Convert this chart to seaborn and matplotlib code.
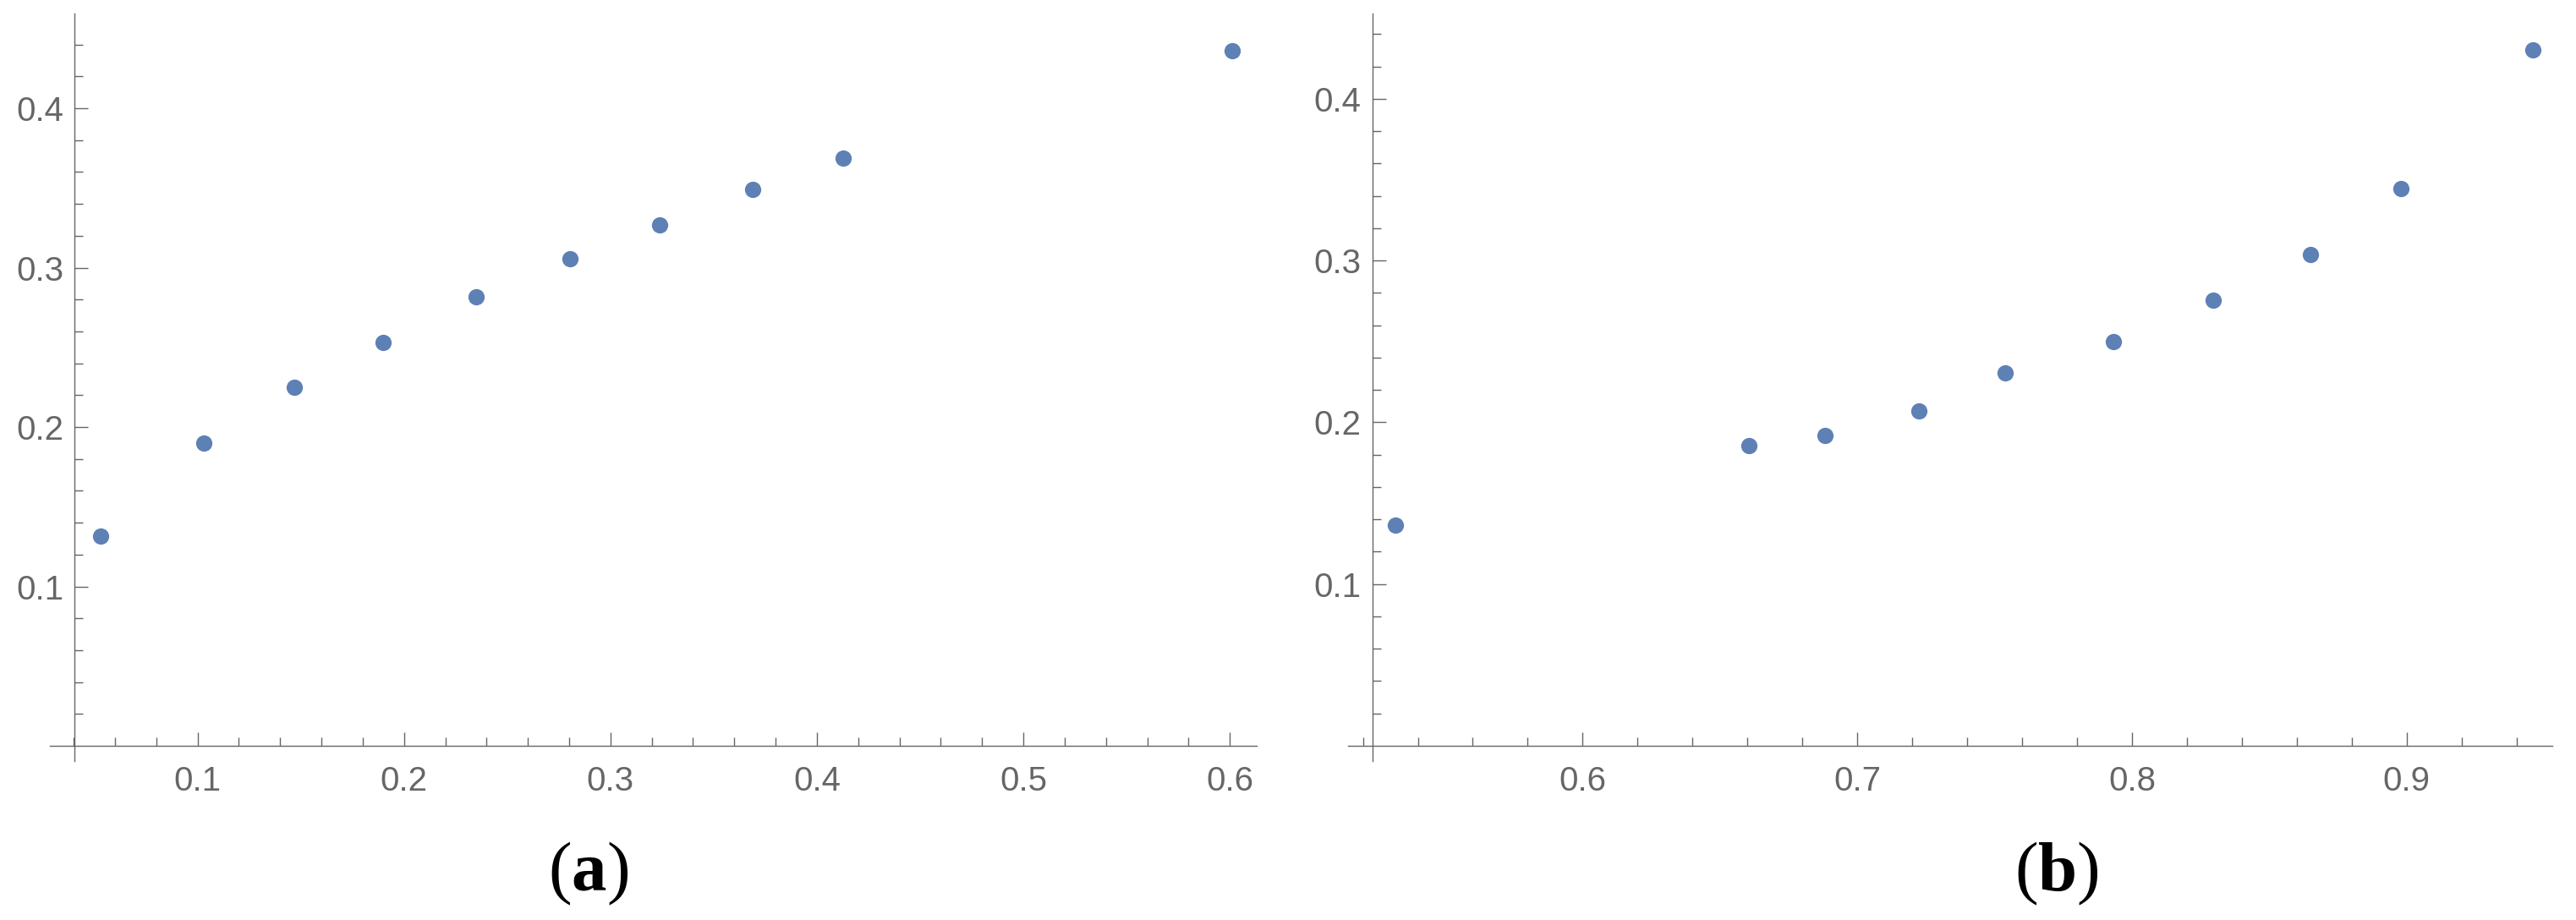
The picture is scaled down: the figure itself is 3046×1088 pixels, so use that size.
import matplotlib
matplotlib.use("Agg")
import matplotlib.pyplot as plt
import seaborn as sns
from matplotlib.ticker import FixedLocator
import numpy as np

# valores
left_x = [0.0529, 0.1032, 0.1468, 0.1900, 0.2351, 0.2803, 0.3239, 0.3690, 0.4126, 0.6012]
left_y = [0.1314, 0.1900, 0.2247, 0.2531, 0.2815, 0.3055, 0.3269, 0.3490, 0.3686, 0.4362]
right_x = [0.5319, 0.6606, 0.6882, 0.7224, 0.7539, 0.7932, 0.8295, 0.8649, 0.8979, 0.9459]
right_y = [0.1364, 0.1855, 0.1920, 0.2069, 0.2305, 0.2498, 0.2756, 0.3036, 0.3444, 0.4302]

left_xticks = [0.1, 0.2, 0.3, 0.4, 0.5, 0.6]
right_xticks = [0.6, 0.7, 0.8, 0.9]
yticks = [0.1, 0.2, 0.3, 0.4]
tick_labels_l = ["0.1", "0.2", "0.3", "0.4", "0.5", "0.6"]
tick_labels_r = ["0.6", "0.7", "0.8", "0.9"]
ytick_labels = ["0.1", "0.2", "0.3", "0.4"]
captions = ["a", "b"]

sns.set_style("white")
plt.rcParams['font.family'] = ['Liberation Sans', 'DejaVu Sans']
plt.rcParams['mathtext.fontset'] = 'custom'
plt.rcParams['mathtext.rm'] = 'Liberation Serif'
plt.rcParams['mathtext.bf'] = 'Liberation Serif:bold'

# tamaño exacto en pixeles: 3046x1088
W, H = 3046, 1088
DPI = 64
fig = plt.figure(figsize=(W / DPI, H / DPI), dpi=DPI)


def pt(px):
    # pixeles -> puntos
    return px * 72 / DPI


AX_COL = "#666666"
PT_COL = "#5E81B5"


def make_axes(px_left, px_right, px_top, px_bottom):
    return fig.add_axes([px_left / W, 1 - px_bottom / H,
                         (px_right - px_left) / W, (px_bottom - px_top) / H])


def style(ax, xlim, ylim, yaxis_x, xmaj, xlabels, xmin):
    ax.set_xlim(*xlim)
    ax.set_ylim(*ylim)
    for s in ["top", "right"]:
        ax.spines[s].set_visible(False)
    ax.spines["left"].set_position(("data", yaxis_x))
    ax.spines["bottom"].set_position(("data", 0))
    for s in ["left", "bottom"]:
        ax.spines[s].set_color(AX_COL)
        ax.spines[s].set_linewidth(pt(1.4))
    ax.xaxis.set_major_locator(FixedLocator(xmaj))
    ax.set_xticklabels(xlabels)
    ax.xaxis.set_minor_locator(FixedLocator(xmin))
    ax.yaxis.set_major_locator(FixedLocator(yticks))
    ax.set_yticklabels(ytick_labels)
    ymin = [v for v in np.round(np.arange(0.02, 0.45, 0.02), 2) if v not in yticks]
    ax.yaxis.set_minor_locator(FixedLocator(ymin))
    ax.tick_params(which="both", direction="in", color=AX_COL, width=pt(1.4),
                   labelcolor=AX_COL, labelsize=pt(40.3),
                   bottom=True, left=True, top=False, right=False)
    ax.tick_params(which="major", length=pt(15.7))
    ax.tick_params(which="minor", length=pt(10))
    ax.tick_params(axis="x", which="major", pad=pt(23))
    ax.tick_params(axis="y", which="major", pad=pt(13.2))
    ax.set_xlabel("")
    ax.set_ylabel("")
    ax.grid(False)


MS = pt(19.3) ** 2

# panel (a)
ax1 = make_axes(59, 1486, 16, 900)
sns.scatterplot(x=left_x, y=left_y, ax=ax1, color=PT_COL, s=MS, linewidth=0, zorder=3)
lmin = [v for v in np.round(np.arange(0.04, 0.61, 0.02), 2) if v not in left_xticks]
style(ax1, (0.0285, 0.613), (-0.0095, 0.4594), 0.0405, left_xticks, tick_labels_l, lmin)

# panel (b)
ax2 = make_axes(1594, 3018, 16, 900)
sns.scatterplot(x=right_x, y=right_y, ax=ax2, color=PT_COL, s=MS, linewidth=0, zorder=3)
rmin = [v for v in np.round(np.arange(0.52, 0.95, 0.02), 2) if v not in right_xticks]
style(ax2, (0.5146, 0.953), (-0.0094, 0.4527), 0.5235, right_xticks, tick_labels_r, rmin)

for cx, c in zip([696, 2432], captions):
    fig.text(cx / W, 35 / H, r"$(\mathbf{%s})$" % c, ha="center", va="baseline",
             fontsize=pt(83), color="black")

fig.savefig("out.png", dpi=DPI)
